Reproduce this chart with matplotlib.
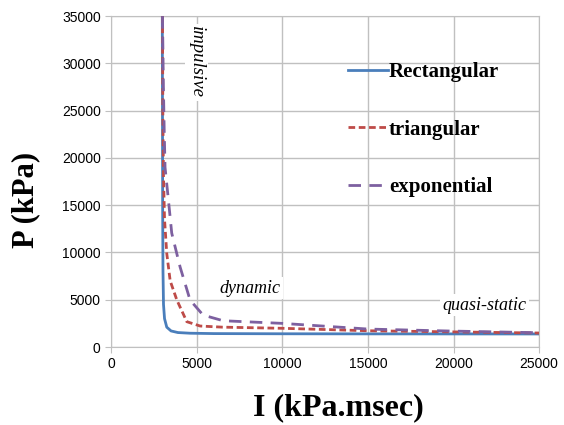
import numpy as np
import matplotlib.pyplot as plt

# P-I diagram data (I in kPa.msec, P in kPa)
rect_I = [2990, 3000, 3010, 3030, 3060, 3120, 3250, 3500, 3900, 4600, 6000, 10000, 15000, 20000, 25000]
rect_P = [35000, 25000, 15000, 8000, 4500, 3000, 2100, 1700, 1530, 1460, 1420, 1400, 1390, 1385, 1380]

tri_I = [3000, 3020, 3060, 3120, 3250, 3450, 3840, 4420, 5200, 6500, 10000, 15000, 20000, 25000]
tri_P = [35000, 25000, 18000, 13500, 9900, 7000, 4970, 2680, 2220, 2100, 1980, 1720, 1600, 1480]

exp_I = [3000, 3050, 3100, 3150, 3350, 3540, 4030, 4610, 5370, 6540, 10000, 15000, 19800, 25000]
exp_P = [35000, 28000, 23000, 19000, 15500, 12050, 8460, 4970, 3380, 2780, 2500, 1900, 1690, 1510]

fig = plt.figure(figsize=(5.64, 4.25), dpi=100)
ax = fig.add_axes([0.197, 0.1835, 0.759, 0.7785])

ax.plot(rect_I, rect_P, color="#4a7ebb", lw=2.0, label="Rectangular", zorder=3)
ax.plot(tri_I, tri_P, color="#be4b48", lw=2.0, dashes=(2.4, 1.3), label="triangular", zorder=3)
ax.plot(exp_I, exp_P, color="#7d60a0", lw=2.0, dashes=(4.5, 3.0), label="exponential", zorder=3)

ax.set_xlim(0, 25000)
ax.set_ylim(0, 35000)
ax.set_xticks(np.arange(0, 25001, 5000))
ax.set_yticks(np.arange(0, 35001, 5000))
ax.grid(True, color="#c0c0c0", lw=1.0)
ax.set_axisbelow(True)
for s in ax.spines.values():
    s.set_color("#c0c0c0")
ax.tick_params(colors="#c0c0c0", labelcolor="black", labelsize=10, length=4)
for lab in ax.get_xticklabels() + ax.get_yticklabels():
    lab.set_family("Liberation Sans")

ax.set_xlabel("I (kPa.msec)", family="Liberation Serif", weight="bold", fontsize=23)
ax.set_ylabel("P (kPa)", family="Liberation Serif", weight="bold", fontsize=22)
ax.xaxis.set_label_coords(0.53, -0.14)
ax.yaxis.set_label_coords(-0.166, 0.445)

box = dict(facecolor="white", edgecolor="none", pad=2)
ax.text(5000, 30100, "impulsive", rotation=270, family="Liberation Serif", style="italic",
        fontsize=13.5, ha="center", va="center", bbox=box)
ax.text(8120, 6240, "dynamic", family="Liberation Serif", style="italic",
        fontsize=13, ha="center", va="center", bbox=box)
ax.text(21790, 4440, "quasi-static", family="Liberation Serif", style="italic",
        fontsize=13, ha="center", va="center", bbox=box)

leg = ax.legend(loc="upper left", bbox_to_anchor=(0.51, 0.917), frameon=False,
                handlelength=1.9, handletextpad=0.05, labelspacing=1.79,
                prop=dict(family="Liberation Serif", weight="bold", size=15))

fig.savefig("out.png", dpi=100)
